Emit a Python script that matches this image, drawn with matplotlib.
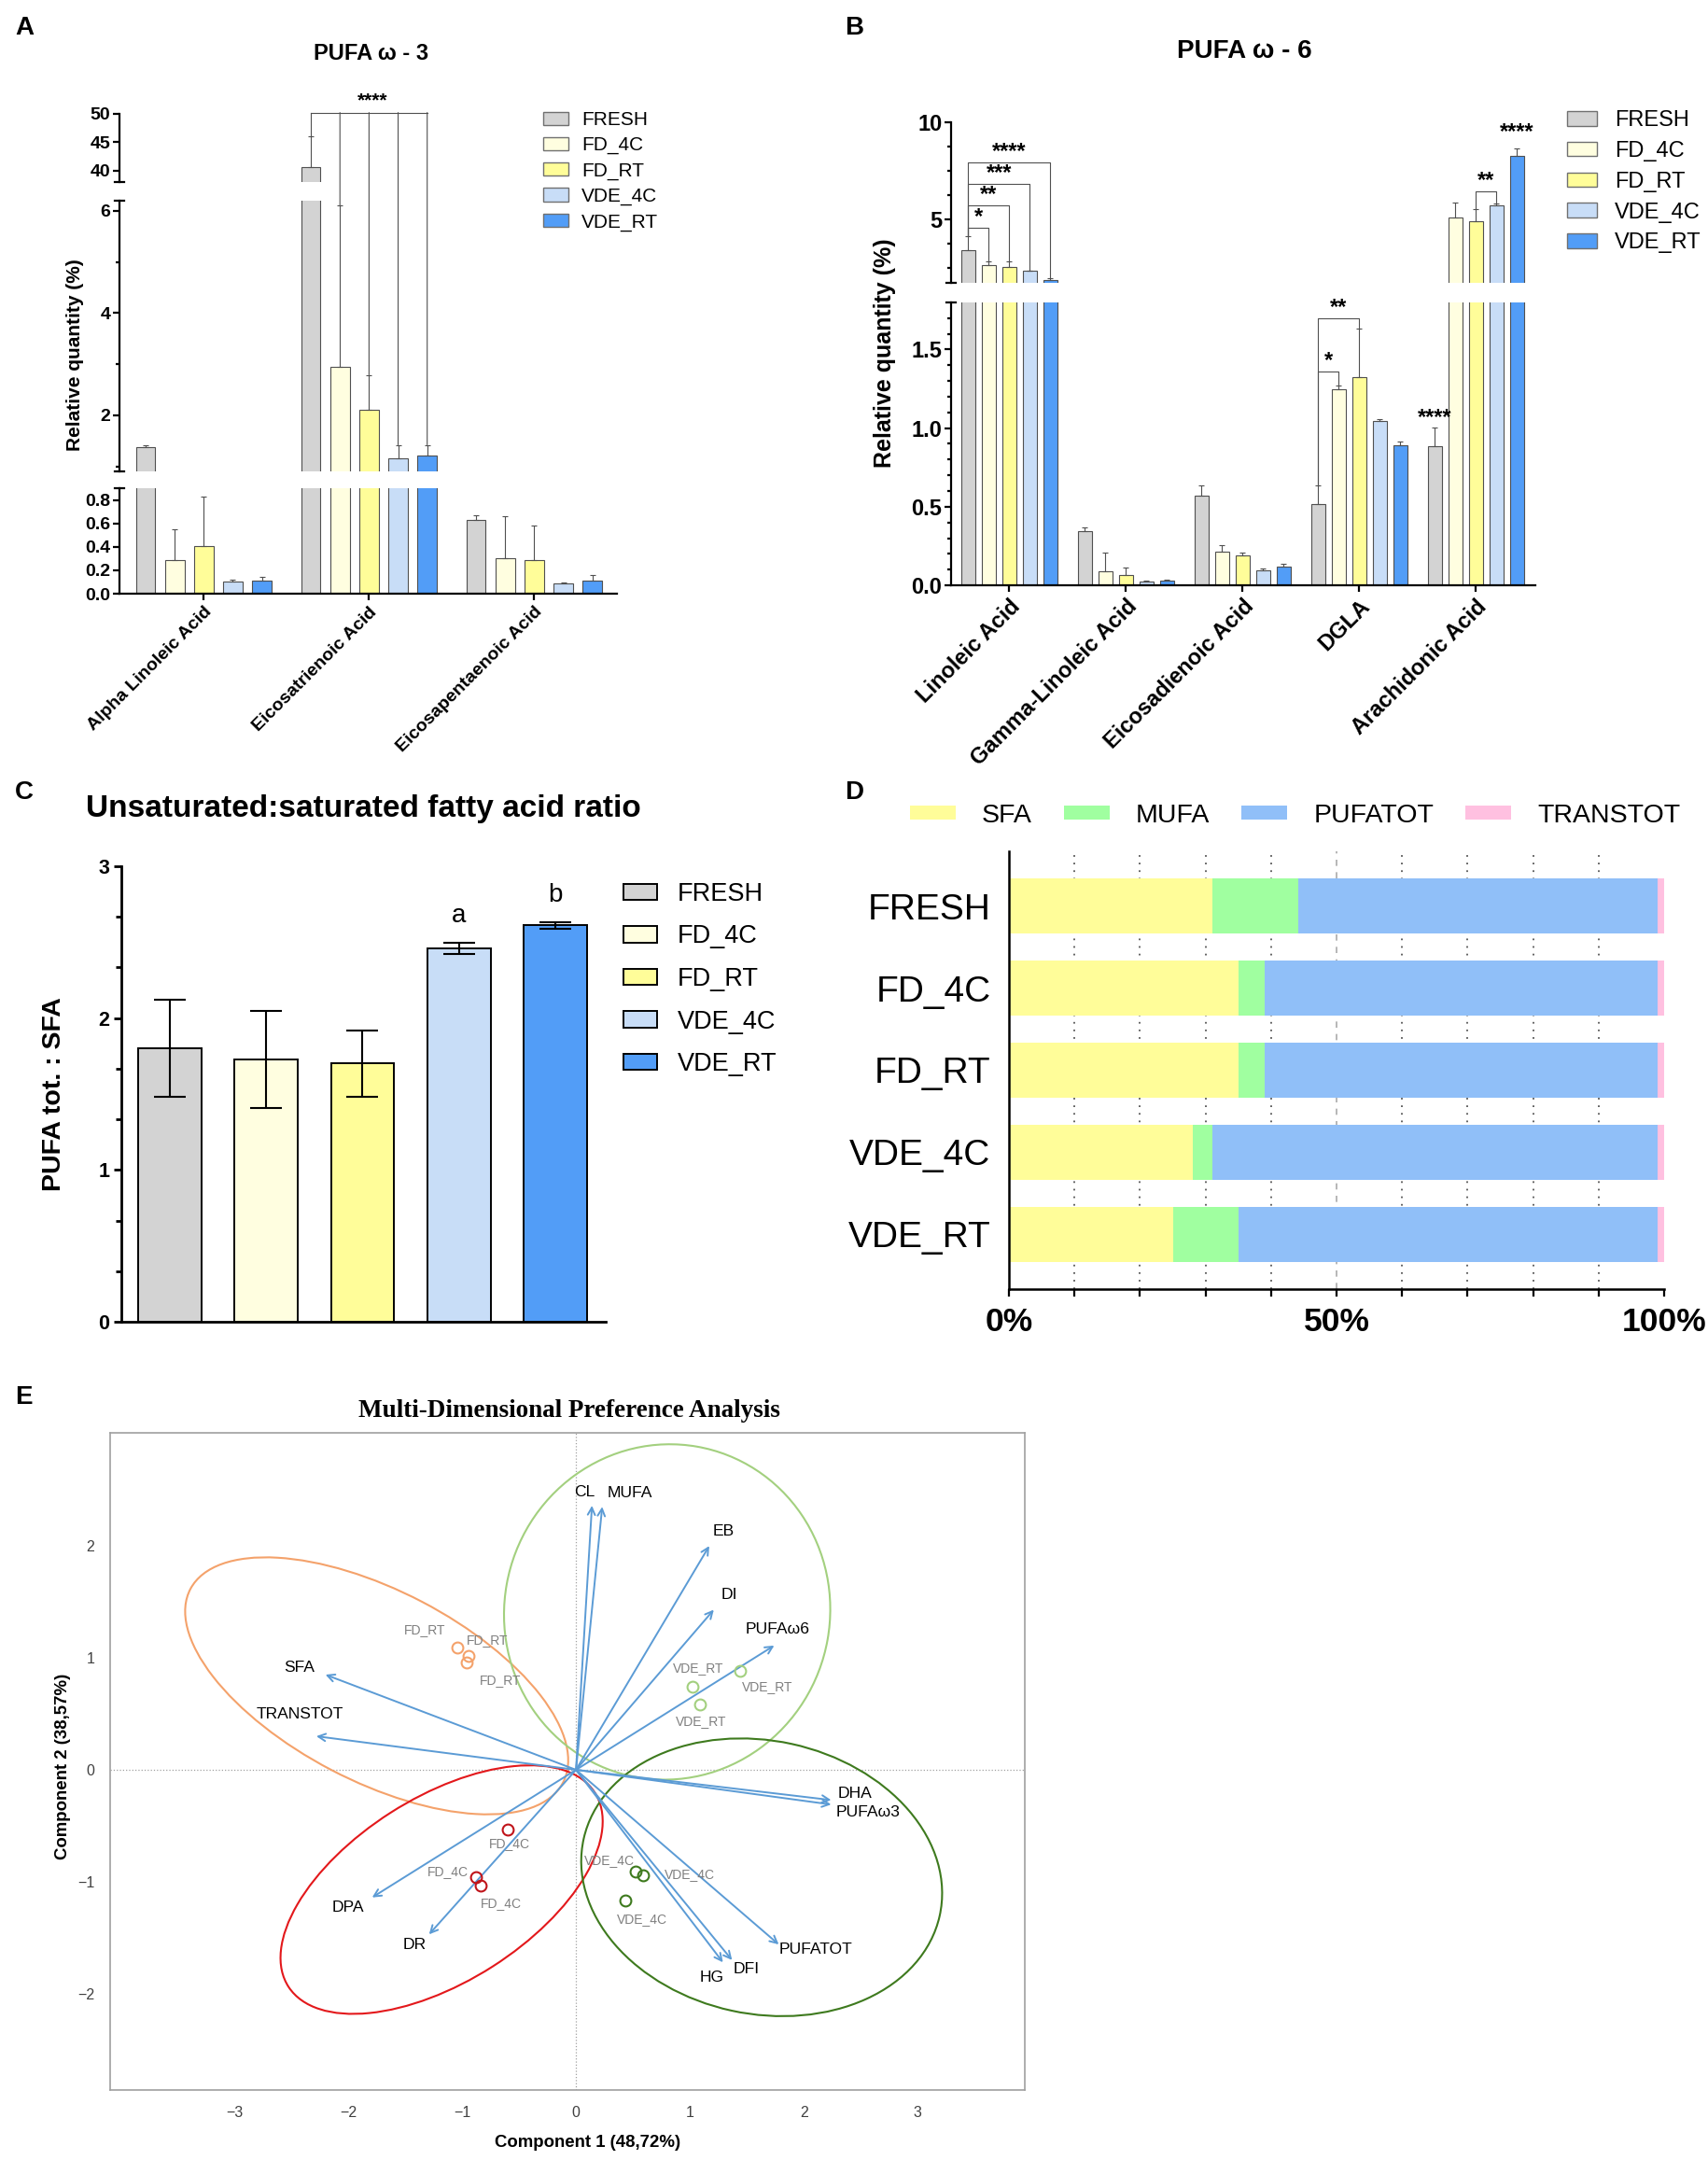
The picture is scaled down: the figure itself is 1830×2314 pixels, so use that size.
import numpy as np
import matplotlib
matplotlib.use('Agg')
import matplotlib.pyplot as plt
from matplotlib.patches import Ellipse, Patch, ConnectionPatch
from matplotlib.ticker import MultipleLocator

plt.rcParams['font.family'] = ['Liberation Sans', 'DejaVu Sans']

W, H = 1831, 2314

GROUPS = ['FRESH', 'FD_4C', 'FD_RT', 'VDE_4C', 'VDE_RT']
BAR_COLORS = ['#D3D3D3', '#FFFEE0', '#FFFD99', '#C8DDF7', '#529DF7']

# --- panel A : PUFA w-3 (rows = groups, cols = acids)
acids_a = ['Alpha Linoleic Acid', 'Eicosatrienoic Acid', 'Eicosapentaenoic Acid']
a_means = [[1.37, 40.6, 0.63],
           [0.29, 2.95, 0.30],
           [0.41, 2.11, 0.29],
           [0.10, 1.15, 0.085],
           [0.115, 1.21, 0.11]]
a_errs = [[0.05, 5.4, 0.04],
          [0.26, 3.15, 0.36],
          [0.42, 0.68, 0.29],
          [0.02, 0.27, 0.01],
          [0.025, 0.21, 0.05]]

# --- panel B : PUFA w-6
acids_b = ['Linoleic Acid', 'Gamma-Linoleic Acid', 'Eicosadienoic Acid', 'DGLA', 'Arachidonic Acid']
b_means = [[3.44, 0.343, 0.572, 0.514, 0.887],
           [2.67, 0.092, 0.214, 1.248, 5.12],
           [2.55, 0.067, 0.190, 1.327, 4.90],
           [2.38, 0.024, 0.098, 1.046, 5.74],
           [1.90, 0.028, 0.116, 0.893, 8.28]]
b_errs = [[0.69, 0.027, 0.064, 0.119, 0.119],
          [0.17, 0.118, 0.040, 0.024, 0.77],
          [0.29, 0.046, 0.020, 0.306, 0.62],
          [0.0, 0.006, 0.009, 0.012, 0.07],
          [0.09, 0.009, 0.019, 0.024, 0.39]]

# --- panel C : PUFA tot : SFA
c_means = [1.80, 1.73, 1.70, 2.46, 2.61]
c_errs = [0.32, 0.32, 0.22, 0.035, 0.02]
c_letters = ['', '', '', 'a', 'b']

# --- panel D : composition (%)
d_classes = ['SFA', 'MUFA', 'PUFATOT', 'TRANSTOT']
d_colors = ['#FFFD99', '#A0FFA0', '#90BFF8', '#FFC0E0']
sfa = [31.0, 35.0, 35.0, 28.0, 25.0]
mufa = [13.1, 4.1, 4.1, 3.0, 10.1]
pufatot = [54.9, 59.9, 59.9, 68.0, 63.9]
transtot = [1.0, 1.0, 1.0, 1.0, 1.0]

# --- panel E : MDPREF biplot
var_names = ['CL', 'MUFA', 'EB', 'DI', 'PUFAω6', 'DHA', 'PUFAω3', 'PUFATOT',
             'DFI', 'HG', 'DR', 'DPA', 'TRANSTOT', 'SFA']
var_x = [0.14, 0.23, 1.17, 1.21, 1.74, 2.24, 2.24, 1.78, 1.37, 1.29, -1.29, -1.79, -2.28, -2.20]
var_y = [2.36, 2.35, 2.00, 1.43, 1.11, -0.27, -0.31, -1.56, -1.70, -1.72, -1.47, -1.14, 0.30, 0.85]
obs_names = ['FD_RT'] * 3 + ['VDE_RT'] * 3 + ['FD_4C'] * 3 + ['VDE_4C'] * 3
obs_x = [-1.04, -0.94, -0.96, 1.44, 1.02, 1.09, -0.60, -0.88, -0.84, 0.52, 0.59, 0.43]
obs_y = [1.09, 1.02, 0.96, 0.88, 0.74, 0.58, -0.53, -0.96, -1.03, -0.91, -0.94, -1.17]
ell_groups = ['FD_RT', 'VDE_RT', 'FD_4C', 'VDE_4C']
ell_cx = [-1.75, 0.80, -1.18, 1.63]
ell_cy = [0.75, 1.41, -1.07, -0.96]
ell_w = [3.7, 3.0, 3.2, 3.2]
ell_h = [1.7, 2.86, 1.64, 2.44]
ell_ang = [-28, 80, 33, -12.5]
grp_colors = {'FD_RT': '#F4A26B', 'VDE_RT': '#A3D07F', 'FD_4C': '#E3181B', 'VDE_4C': '#3E7A1E'}
pt_colors = {'FD_RT': '#F4A26B', 'VDE_RT': '#A3D07F', 'FD_4C': '#C0141A', 'VDE_4C': '#3E7A1E'}

EDGE = '#505050'
SPINE_LW = 1.6
PITCH, BW = 0.176, 0.117


def px_rect(x0, y0, x1, y1):
    return [x0 / W, 1 - y1 / H, (x1 - x0) / W, (y1 - y0) / H]


def fx(x):
    return x / W


def fy(y):
    return 1 - y / H


fig = plt.figure(figsize=(W / 100, H / 100), dpi=100)


def seg_axes(rect, ylim, major, minor, fmt, lsize, bottom):
    ax = fig.add_axes(rect)
    ax.set_facecolor('none')
    ax.set_ylim(*ylim)
    ax.set_yticks(major, [fmt.format(t) for t in major], fontweight='bold', fontsize=lsize)
    ax.set_yticks(minor, minor=True)
    for s in ['top', 'right']:
        ax.spines[s].set_visible(False)
    ax.spines['left'].set_linewidth(SPINE_LW)
    ax.tick_params(axis='y', which='major', length=5, width=SPINE_LW, pad=2)
    ax.tick_params(axis='y', which='minor', length=3, width=SPINE_LW)
    if bottom:
        ax.spines['bottom'].set_linewidth(SPINE_LW)
    else:
        ax.spines['bottom'].set_visible(False)
        ax.tick_params(axis='x', bottom=False, labelbottom=False)
    return ax


def group_bars(ax, means, errs):
    n = len(means[0])
    x = np.arange(n)
    for i in range(5):
        xs = x + (i - 2) * PITCH
        ax.bar(xs, means[i], BW, color=BAR_COLORS[i], edgecolor=EDGE, linewidth=0.8, zorder=2)
        ax.errorbar(xs, means[i], yerr=[np.zeros(n), errs[i]], fmt='none', ecolor=EDGE,
                    elinewidth=0.8, capsize=2.5, capthick=0.8, zorder=3)


def break_mark(ax, y, axw):
    d = 5 / axw
    ax.plot([-d, d], [y, y], transform=ax.transAxes, color='black', lw=SPINE_LW, clip_on=False)


def bracket(ax, x1, x2, y1, y2, h, text, fs):
    ax.plot([x1, x1, x2, x2], [y1, h, h, y2], color=EDGE, lw=0.8, clip_on=False, zorder=4)
    ax.text((x1 + x2) / 2, h, text, ha='center', va='bottom', fontsize=fs, fontweight='bold')


def bx(g, i):
    return g + (i - 2) * PITCH


def top_of(means, errs, i, g):
    return means[i][g] + errs[i][g]


# ================= Panel A =================
a_top = seg_axes(px_rect(128, 121.5, 661, 195), (38, 50), [40, 45, 50], [], '{:.0f}', 14, False)
a_mid = seg_axes(px_rect(128, 215, 661, 505), (0.9, 6.2), [2, 4, 6], [1, 3, 5], '{:.0f}', 14, False)
a_bot = seg_axes(px_rect(128, 523, 661, 636), (0, 0.9), [0, 0.2, 0.4, 0.6, 0.8], [], '{:.1f}', 14, True)
for ax in (a_top, a_mid, a_bot):
    ax.set_xlim(-0.51, 2.5)
    group_bars(ax, a_means, a_errs)
break_mark(a_top, 0, 533)
break_mark(a_mid, 1, 533)
break_mark(a_mid, 0, 533)
break_mark(a_bot, 1, 533)
a_bot.set_xticks(range(3), acids_a, rotation=45, ha='right', rotation_mode='anchor',
                 fontsize=14, fontweight='bold')
a_bot.tick_params(axis='x', length=5, width=SPINE_LW, pad=3)

h = 50.15
a_top.plot([bx(1, 0), bx(1, 4)], [h, h], color=EDGE, lw=0.8, clip_on=False)
a_top.plot([bx(1, 0), bx(1, 0)], [top_of(a_means, a_errs, 0, 1), h], color=EDGE, lw=0.8, clip_on=False)
for i in range(1, 5):
    cp = ConnectionPatch(xyA=(bx(1, i), top_of(a_means, a_errs, i, 1)), coordsA=a_mid.transData,
                         xyB=(bx(1, i), h), coordsB=a_top.transData, color=EDGE, lw=0.8)
    fig.add_artist(cp)
a_top.text(1.02, 50.6, '****', ha='center', va='bottom', fontsize=15, fontweight='bold')

fig.text(fx(81), fy(380), 'Relative quantity (%)', rotation=90, ha='center', va='center',
         fontsize=15, fontweight='bold')
fig.text(fx(398), fy(57), 'PUFA ω - 3', ha='center', va='center', fontsize=17, fontweight='bold')

handles = [Patch(facecolor=c, edgecolor='#707070', linewidth=1) for c in BAR_COLORS]
fig.legend(handles, GROUPS, loc='upper left', bbox_to_anchor=(fx(582), fy(119)), frameon=False,
           fontsize=15, borderaxespad=0, borderpad=0, handlelength=1.3, handleheight=0.67,
           handletextpad=0.67, labelspacing=0.39)

# ================= Panel B =================
b_up = seg_axes(px_rect(1019, 131, 1645, 303), (1.75, 10), [5, 10], [2.5, 3.75, 6.25, 7.5, 8.75],
                '{:.0f}', 17, False)
b_lo = seg_axes(px_rect(1019, 324, 1645, 627), (0, 1.8), [0, 0.5, 1.0, 1.5],
                list(np.arange(0.1, 1.8, 0.1)), '{:.1f}', 17, True)
for ax in (b_up, b_lo):
    ax.set_xlim(-0.50, 4.51)
    group_bars(ax, b_means, b_errs)
break_mark(b_up, 0, 626)
break_mark(b_lo, 1, 626)
b_lo.set_xticks(range(5), acids_b, rotation=45, ha='right', rotation_mode='anchor',
                fontsize=17, fontweight='bold')
b_lo.tick_params(axis='x', length=5, width=SPINE_LW, pad=3)

# Linoleic acid brackets
lin_h = [4.57, 5.72, 6.83, 7.92]
stars = ['*', '**', '***', '****']
for k in range(4):
    bracket(b_up, bx(0, 0), bx(0, k + 1), top_of(b_means, b_errs, 0, 0),
            top_of(b_means, b_errs, k + 1, 0), lin_h[k], stars[k], 17)
# DGLA brackets
bracket(b_lo, bx(3, 0), bx(3, 1), top_of(b_means, b_errs, 0, 3), top_of(b_means, b_errs, 1, 3), 1.36, '*', 17)
bracket(b_lo, bx(3, 0), bx(3, 2), top_of(b_means, b_errs, 0, 3), top_of(b_means, b_errs, 2, 3), 1.70, '**', 17)
# Arachidonic acid
bracket(b_up, bx(4, 2), bx(4, 3), top_of(b_means, b_errs, 2, 4), top_of(b_means, b_errs, 3, 4), 6.43, '**', 17)
b_lo.text(bx(4, 0), 1.0, '****', ha='center', va='bottom', fontsize=17, fontweight='bold')
b_up.text(bx(4, 4), 8.95, '****', ha='center', va='bottom', fontsize=17, fontweight='bold', clip_on=False)

fig.text(fx(948), fy(378), 'Relative quantity (%)', rotation=90, ha='center', va='center',
         fontsize=18, fontweight='bold')
fig.text(fx(1333), fy(55), 'PUFA ω - 6', ha='center', va='center', fontsize=20, fontweight='bold')
fig.legend(handles, GROUPS, loc='upper left', bbox_to_anchor=(fx(1679), fy(118)), frameon=False,
           fontsize=17, borderaxespad=0, borderpad=0, handlelength=1.36, handleheight=0.64,
           handletextpad=0.8, labelspacing=0.46)

# ================= Panel C =================
axc = fig.add_axes(px_rect(130, 928, 649, 1416))
axc.bar(range(5), c_means, 0.655, color=BAR_COLORS, edgecolor='black', linewidth=1.4, zorder=2)
axc.errorbar(range(5), c_means, yerr=c_errs, fmt='none', ecolor='black', elinewidth=1.5,
             capsize=12.5, capthick=1.5, zorder=3)
for i, lt in enumerate(c_letters):
    if lt:
        axc.text(i, c_means[i] + c_errs[i] + 0.1, lt, ha='center', va='bottom', fontsize=20)
axc.set_xlim(-0.5, 4.52)
axc.set_ylim(0, 3)
axc.set_yticks([0, 1, 2, 3], ['0', '1', '2', '3'], fontsize=15.5, fontweight='bold')
axc.yaxis.set_minor_locator(MultipleLocator(1 / 3))
axc.set_xticks([])
for s in ['top', 'right']:
    axc.spines[s].set_visible(False)
for s in ['left', 'bottom']:
    axc.spines[s].set_linewidth(2)
axc.tick_params(axis='y', which='major', length=6, width=2, pad=3)
axc.tick_params(axis='y', which='minor', length=4, width=2)
fig.text(fx(58), fy(1172), 'PUFA tot. : SFA', rotation=90, ha='center', va='center',
         fontsize=20.5, fontweight='bold')
fig.text(fx(92), fy(866), 'Unsaturated:saturated fatty acid ratio', ha='left', va='center',
         fontsize=24, fontweight='bold')
c_handles = [Patch(facecolor=c, edgecolor='black', linewidth=1.4) for c in BAR_COLORS]
fig.legend(c_handles, GROUPS, loc='upper left', bbox_to_anchor=(fx(668), fy(945)), frameon=False,
           fontsize=19.5, borderaxespad=0, borderpad=0, handlelength=1.33, handleheight=0.6,
           handletextpad=0.81, labelspacing=0.72)

# ================= Panel D =================
axd = fig.add_axes(px_rect(1081, 912, 1783, 1381))
parts = np.array([sfa, mufa, pufatot, transtot])
parts = parts / parts.sum(axis=0) * 100
left = np.zeros(5)
for k in range(4):
    axd.barh(range(5), parts[k], 0.67, left=left, color=d_colors[k], label=d_classes[k], zorder=2)
    left += parts[k]
for v in range(10, 100, 10):
    if v == 50:
        axd.axvline(v, color='#AAAAAA', ls=(0, (4, 4)), lw=1.2, zorder=0)
    else:
        axd.axvline(v, color='#555555', ls=(0, (1, 3.5)), lw=1.3, zorder=0)
axd.set_xlim(0, 100)
axd.set_ylim(4.67, -0.67)
axd.set_yticks(range(5), GROUPS, fontsize=28)
axd.tick_params(axis='y', length=0, pad=14)
axd.set_xticks([0, 50, 100], ['0%', '50%', '100%'], fontsize=25.5, fontweight='bold')
axd.xaxis.set_minor_locator(MultipleLocator(10))
axd.tick_params(axis='x', which='both', length=6, width=1.6, pad=8)
for s in ['top', 'right']:
    axd.spines[s].set_visible(False)
for s in ['left', 'bottom']:
    axd.spines[s].set_linewidth(1.8)
dh, dl = axd.get_legend_handles_labels()
fig.legend(dh, dl, loc='center left', bbox_to_anchor=(fx(975), fy(874)), ncol=4, frameon=False,
           fontsize=20.5, borderaxespad=0, borderpad=0, handlelength=1.72, handleheight=0.42,
           handletextpad=0.98, columnspacing=1.2)

# ================= Panel E =================
axe = fig.add_axes(px_rect(118, 1535, 1098, 2239))
axe.set_xlim(-4.09, 3.94)
axe.set_ylim(-2.86, 3.01)
axe.axhline(0, color='#A0A0A0', ls=':', lw=0.9, zorder=0)
axe.axvline(0, color='#A0A0A0', ls=':', lw=0.9, zorder=0)
for g, cx, cy, ew, eh, ea in zip(ell_groups, ell_cx, ell_cy, ell_w, ell_h, ell_ang):
    axe.add_patch(Ellipse((cx, cy), ew, eh, angle=ea, fill=False, ec=grp_colors[g], lw=1.5, zorder=1))

var_off = [(-8, 14), (30, 15), (15, 16), (17, 16), (4, 17), (25, 7), (40, -8), (40, -5),
           (15, -10), (-12, -16), (-16, -11), (-26, -11), (-18, 24), (-28, 8)]
for name, x, y, (ox, oy) in zip(var_names, var_x, var_y, var_off):
    axe.annotate('', xy=(x, y), xytext=(0, 0),
                 arrowprops=dict(arrowstyle='->', color='#5B9BD5', lw=1.4, shrinkA=0, shrinkB=0,
                                 mutation_scale=14), zorder=3)
    axe.annotate(name, xy=(x, y), xytext=(ox * 0.72, oy * 0.72), textcoords='offset points',
                 ha='center', va='center', fontsize=12.6, color='black')

obs_off = [(-35, 19), (20, 17), (36, -19), (29, -17), (7, 20), (1, -18),
           (2, -15), (-30, 6), (22, -19), (-28, 12), (50, 1), (18, -20)]
for name, x, y, (ox, oy) in zip(obs_names, obs_x, obs_y, obs_off):
    axe.plot(x, y, 'o', ms=8.5, mfc='none', mec=pt_colors[name], mew=1.5, zorder=4)
    axe.annotate(name, xy=(x, y), xytext=(ox * 0.72, oy * 0.72), textcoords='offset points',
                 ha='center', va='center', fontsize=10, color='#7F7F7F')

axe.set_xticks([-3, -2, -1, 0, 1, 2, 3])
axe.set_yticks([-2, -1, 0, 1, 2])
axe.tick_params(length=0, labelsize=11.5, labelcolor='#404040', pad=12)
for s in axe.spines.values():
    s.set_color('#A0A0A0')
    s.set_linewidth(1.2)
fig.text(fx(630), fy(2295), 'Component 1 (48,72%)', ha='center', va='center', fontsize=13.4,
         fontweight='bold')
fig.text(fx(68), fy(1892), 'Component 2 (38,57%)', rotation=90, ha='center', va='center',
         fontsize=13.4, fontweight='bold')
fig.text(fx(610), fy(1512), 'Multi-Dimensional Preference Analysis', ha='center', va='center',
         fontsize=19.5, fontweight='bold', family=['Liberation Serif', 'DejaVu Serif'])

# panel letters
for lt, x, y in [('A', 26, 30), ('B', 915, 30), ('C', 26, 849), ('D', 915, 849), ('E', 25, 1497)]:
    fig.text(fx(x), fy(y), lt, ha='center', va='center', fontsize=20, fontweight='bold')

fig.savefig('out.png', dpi=100)
